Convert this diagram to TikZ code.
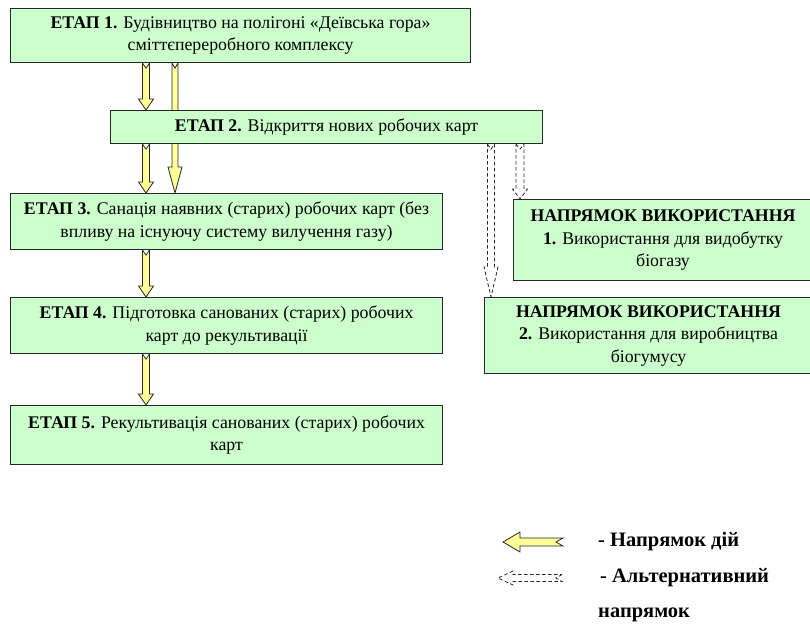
\documentclass[tikz,border=0pt]{standalone}
\usepackage{fontspec}
\setmainfont{Liberation Serif}
\usetikzlibrary{calc,backgrounds}
\definecolor{boxgreen}{HTML}{CCFFCC}
\definecolor{arrowyellow}{HTML}{FFFF99}
\definecolor{edge}{HTML}{262626}
\tikzset{
  bw/.store in=\baw, bhw/.store in=\bahw, bhl/.store in=\bahl, bn/.store in=\ban,
  bw=3.5pt, bhw=7.5pt, bhl=11pt, bn=5pt,
  downblock/.style={to path={let \p1=(\tikztostart),\p2=(\tikztotarget) in
    (\x1-\baw,\y1) -- (\x1,\y1-\ban) -- (\x1+\baw,\y1) -- (\x1+\baw,\y2+\bahl)
    -- (\x1+\bahw,\y2+\bahl) -- (\x1,\y2) -- (\x1-\bahw,\y2+\bahl)
    -- (\x1-\baw,\y2+\bahl) -- cycle}},
  leftblock/.style={to path={let \p1=(\tikztostart),\p2=(\tikztotarget) in
    (\x1,\y1+\baw) -- (\x1-\ban,\y1) -- (\x1,\y1-\baw) -- (\x2+\bahl,\y1-\baw)
    -- (\x2+\bahl,\y1-\bahw) -- (\x2,\y1) -- (\x2+\bahl,\y1+\bahw)
    -- (\x2+\bahl,\y1+\baw) -- cycle}},
  solidarrow/.style={draw=edge, fill=arrowyellow, line width=0.8pt, line join=miter},
  altarrow/.style={draw=edge, fill=white, line width=0.8pt, dash pattern=on 3.5pt off 2.5pt},
  stagebox/.style={draw=edge, fill=boxgreen, line width=1.1pt, anchor=north west,
    inner sep=0pt, align=center, font=\fontsize{17.8}{22.5}\selectfont},
  legendtext/.style={anchor=west, inner sep=0pt, font=\fontsize{20.5}{24}\selectfont\bfseries},
}
\begin{document}
\begin{tikzpicture}[x=1pt,y=-1pt]
\clip (0,0) rectangle (810,623);

\node[stagebox, minimum width=460pt, minimum height=54pt] (b1) at (10,8)
  {\textbf{ЕТАП 1.} Будівництво на полігоні «Деївська гора»\\ сміттєпереробного комплексу};
\node[stagebox, minimum width=432pt, minimum height=33pt] (b2) at (110,110)
  {\textbf{ЕТАП 2.} Відкриття нових робочих карт};
\node[stagebox, minimum width=432pt, minimum height=56pt] (b3) at (10,193)
  {\textbf{ЕТАП 3.} Санація наявних (старих) робочих карт (без\\ впливу на існуючу систему вилучення газу)};
\node[stagebox, minimum width=432pt, minimum height=56pt] (b4) at (10,297)
  {\textbf{ЕТАП 4.} Підготовка санованих (старих) робочих\\ карт до рекультивації};
\node[stagebox, minimum width=432pt, minimum height=59pt] (b5) at (10,405)
  {\textbf{ЕТАП 5.} Рекультивація санованих (старих) робочих\\ карт};
\node[stagebox, minimum width=299pt, minimum height=81pt] (r1) at (513,199)
  {\textbf{НАПРЯМОК ВИКОРИСТАННЯ}\\ \textbf{1.} Використання для видобутку\\ біогазу};
\node[stagebox, minimum width=328pt, minimum height=76pt] (r2) at (484,297)
  {\textbf{НАПРЯМОК ВИКОРИСТАННЯ}\\ \textbf{2.} Використання для виробництва\\ біогумусу};

\begin{scope}[on background layer]
  \draw[solidarrow, downblock] ([xshift=136pt]b1.south west) to ([xshift=36pt]b2.north west);
  \draw[solidarrow, downblock, bw=3pt, bhw=7pt, bhl=26pt] ([xshift=165pt]b1.south west) to ([xshift=165pt]b3.north west);
  \draw[solidarrow, downblock] ([xshift=36pt]b2.south west) to ([xshift=136pt]b3.north west);
  \draw[solidarrow, downblock] ([xshift=136pt]b3.south west) to ([xshift=136pt]b4.north west);
  \draw[solidarrow, downblock] ([xshift=136pt]b4.south west) to ([xshift=136pt]b5.north west);
  \draw[altarrow, downblock, bw=3.5pt, bhw=7pt, bhl=30pt] ([xshift=381pt]b2.south west) to ([xshift=7pt]r2.north west);
  \draw[altarrow, downblock, bw=4pt, bhw=7.5pt, bhl=10pt] ([xshift=410pt]b2.south west) to ([xshift=7pt]r1.north west);
\end{scope}

\coordinate (l1s) at (563,542);
\coordinate (l1e) at (503,542);
\coordinate (l2s) at (562,578);
\coordinate (l2e) at (498,578);
\draw[solidarrow, leftblock, bw=4pt, bhw=10pt, bhl=17pt, bn=7pt] (l1s) to (l1e);
\draw[altarrow, leftblock, bw=3.5pt, bhw=7pt, bhl=15pt, bn=6pt] (l2s) to (l2e);
\node[legendtext] (t1) at (598,542) {- Напрямок дій};
\node[legendtext] (t2) at (600,578) {- Альтернативний};
\node[legendtext] (t3) at (598,615) {напрямок};
\end{tikzpicture}
\end{document}
